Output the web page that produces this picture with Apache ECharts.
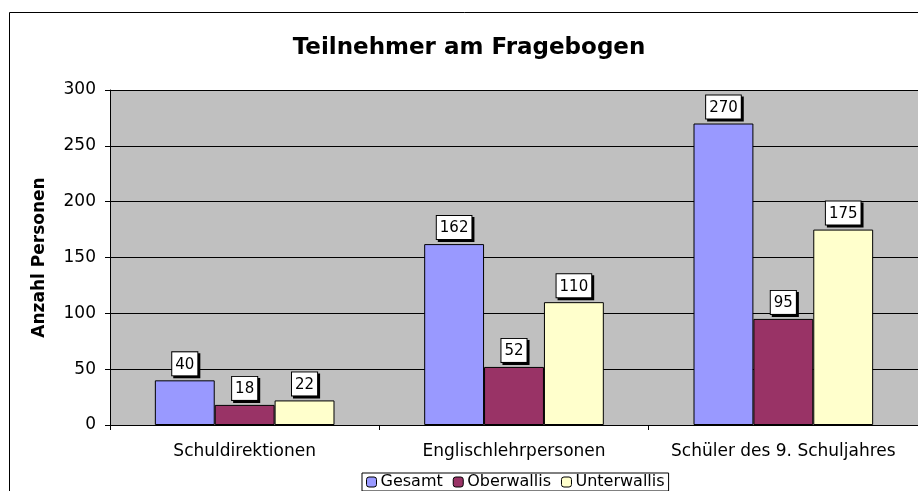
<!DOCTYPE html>
<html>
<head>
<meta charset="utf-8">
<script src="https://cdn.jsdelivr.net/npm/echarts@6/dist/echarts.min.js"></script>
<style>
  html, body { margin: 0; padding: 0; background: #fff; }
  #main { width: 918px; height: 491px; }
</style>
</head>
<body>
<div id="main"></div>
<script>
// Daten
const categories = ["Schuldirektionen", "Englischlehrpersonen", "Schüler des 9. Schuljahres"];
const gesamt = [40, 162, 270];
const oberwallis = [18, 52, 95];
const unterwallis = [22, 110, 175];
const yTicks = [0, 50, 100, 150, 200, 250, 300];

const chart = echarts.init(document.getElementById("main"));

const font = "DejaVu Sans, Arial, sans-serif";

// Wertebeschriftung im Excel-Stil: weisser Kasten mit Schatten
const boxLabel = {
  show: true,
  position: "top",
  distance: 5,
  color: "#000",
  fontFamily: font,
  fontSize: 15,
  backgroundColor: "#fff",
  borderColor: "#000",
  borderWidth: 1,
  padding: [5, 3, 3, 3],
  shadowColor: "#000",
  shadowOffsetX: 2,
  shadowOffsetY: 2,
  shadowBlur: 0,
};

function bar(name, data, color) {
  return {
    name: name,
    type: "bar",
    data: data,
    barGap: "0%",
    barCategoryGap: "33.3%",
    itemStyle: { color: color, borderColor: "#000", borderWidth: 1 },
    label: boxLabel,
  };
}

const option = {
  animation: false,
  backgroundColor: "#fff",
  textStyle: { fontFamily: font },
  title: {
    text: "Teilnehmer am Fragebogen",
    left: 464,
    textAlign: "center",
    top: 32,
    textStyle: { fontSize: 23, fontWeight: "bold", color: "#000", fontFamily: font },
  },
  graphic: [
    {
      type: "rect",
      shape: { x: 9.5, y: 12.5, width: 1000, height: 1000 },
      style: { fill: "none", stroke: "#000", lineWidth: 1 },
      silent: true,
    },
  ],
  legend: {
    bottom: 0,
    left: 362,
    itemWidth: 10,
    itemHeight: 10,
    itemGap: 10,
    padding: [1, 4, 1, 4],
    borderColor: "#000",
    borderWidth: 1,
    textStyle: { fontSize: 16, color: "#000", fontFamily: font, padding: [0, 0, 0, -1] },
    data: [
      { name: "Gesamt", itemStyle: { borderColor: "#000", borderWidth: 1 } },
      { name: "Oberwallis", itemStyle: { borderColor: "#000", borderWidth: 1 } },
      { name: "Unterwallis", itemStyle: { borderColor: "#000", borderWidth: 1 } },
    ],
  },
  grid: {
    left: 110,
    right: -2,
    top: 90,
    bottom: 66,
    show: true,
    backgroundColor: "#C0C0C0",
    borderWidth: 0,
  },
  xAxis: {
    type: "category",
    data: categories,
    axisLine: { lineStyle: { color: "#000" } },
    axisTick: { show: true, length: 5, lineStyle: { color: "#000" } },
    axisLabel: { interval: 0, hideOverlap: false, fontSize: 17, color: "#000", margin: 18, fontFamily: font },
  },
  yAxis: {
    type: "value",
    min: 0,
    max: 300,
    interval: 50,
    name: "Anzahl Personen",
    nameLocation: "middle",
    nameGap: 62,
    nameTextStyle: { fontSize: 17, fontWeight: "bold", color: "#000", fontFamily: font },
    axisLine: { show: true, lineStyle: { color: "#000" } },
    axisTick: { show: true, length: 5, lineStyle: { color: "#000" } },
    axisLabel: {
      fontSize: 17,
      color: "#000",
      margin: 14,
      fontFamily: font,
      formatter: (v) => (yTicks.includes(v) ? String(v) : ""),
    },
    splitLine: { lineStyle: { color: "#000", width: 1 } },
  },
  series: [
    bar("Gesamt", gesamt, "#9999FF"),
    bar("Oberwallis", oberwallis, "#993366"),
    bar("Unterwallis", unterwallis, "#FFFFCC"),
  ],
};

chart.setOption(option);
</script>
</body>
</html>
